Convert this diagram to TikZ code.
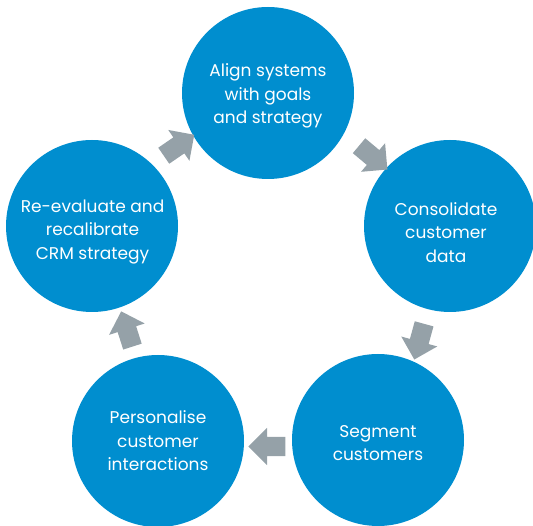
\documentclass[tikz,border=0pt]{standalone}
\usepackage{fontspec}
\setmainfont{Poppins}
\usetikzlibrary{shapes.arrows}
\definecolor{cblue}{RGB}{0,142,207}
\definecolor{agray}{RGB}{149,161,168}
\begin{document}
\begin{tikzpicture}[x=1pt,y=-1pt,
  stage/.style={circle,fill=cblue,minimum size=172pt,inner sep=0pt},
  stagetext/.style={text=white,align=center,inner sep=0pt,
    font=\fontsize{17}{23.5}\selectfont},
  flow/.style={single arrow,fill=agray,minimum height=37pt,minimum width=37pt,
    single arrow head extend=9pt,single arrow tip angle=90,inner xsep=0pt,inner ysep=9.5pt,
    text height=0pt,text depth=0pt}]
\useasboundingbox (0,0) rectangle (533,526);
\clip (0,0) rectangle (533,526);
\node[stage] (s1) at (268,93) {};
\node[stage] (s2) at (450,226) {};
\node[stage] (s3) at (378,440) {};
\node[stage] (s4) at (158,441) {};
\node[stage] (s5) at (92,226) {};
\node[stagetext] (t1) at (268,96) {Align systems\\with goals\\and strategy};
\node[stagetext] (t2) at (446,232.5) {Consolidate\\customer\\data};
\node[stagetext] (t3) at (378,443) {Segment\\customers};
\node[stagetext] (t4) at (158,441) {Personalise\\customer\\interactions};
\node[stagetext] (t5) at (92.5,232) {Re-evaluate and\\recalibrate\\CRM strategy};
\node[flow,rotate=34.5] (a1) at (175,148) {};
\node[flow,rotate=-40] (a2) at (369.5,154.5) {};
\node[flow,rotate=-105.4] (a3) at (420.5,337) {};
\node[flow,rotate=180] (a4) at (271.7,446.5) {};
\node[flow,rotate=107.7] (a5) at (128.3,333.6) {};
\end{tikzpicture}
\end{document}
